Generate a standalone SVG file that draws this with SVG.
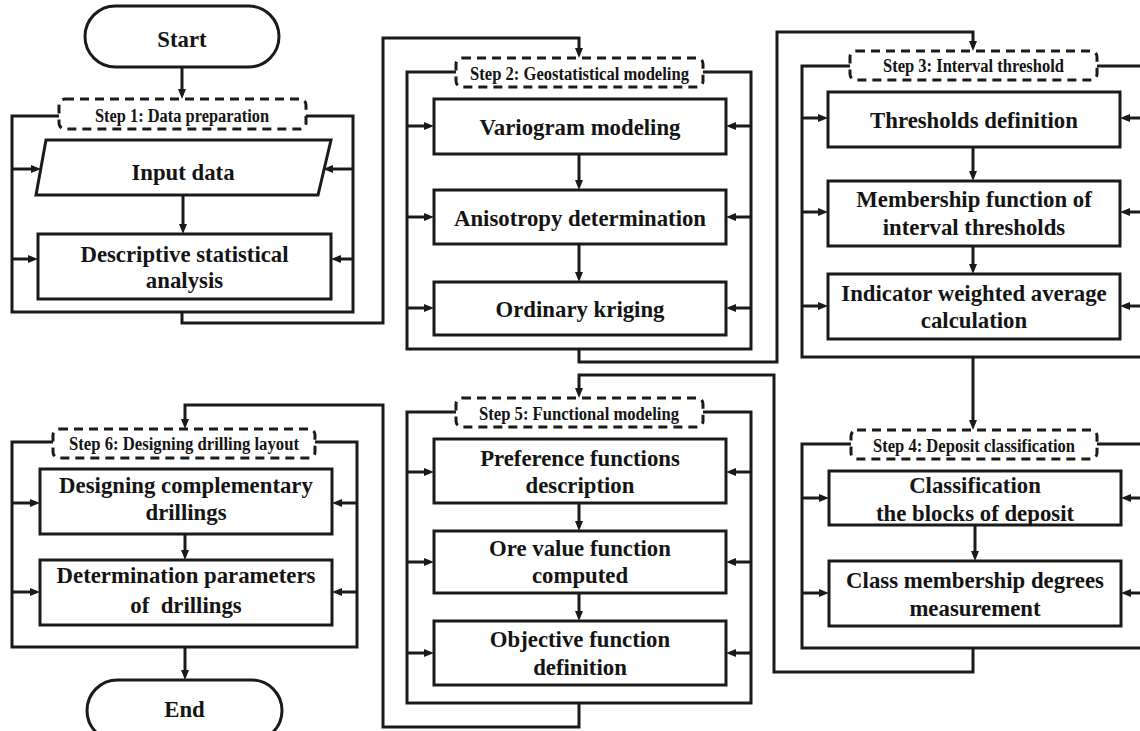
<svg xmlns="http://www.w3.org/2000/svg" width="1140" height="731" viewBox="0 0 1140 731">
<defs>
<style>
.box{fill:#fff;stroke:#1a1a1a;stroke-width:3}
.frame{fill:none;stroke:#1a1a1a;stroke-width:3}
.lbl{fill:#fff;stroke:#1a1a1a;stroke-width:3;stroke-dasharray:9 6}
.t{font-family:"Liberation Serif","Times New Roman",serif;font-weight:bold;font-size:24px;fill:#141414;text-anchor:middle;transform-box:fill-box;transform-origin:center;transform:scaleX(0.95)}
.s{font-family:"Liberation Serif","Times New Roman",serif;font-weight:bold;font-size:18px;fill:#141414;text-anchor:middle}
.c{fill:none;stroke:#1a1a1a;stroke-width:3;marker-end:url(#ah)}
</style>
<marker id="ah" viewBox="0 0 10 8" refX="2" refY="4" markerWidth="10" markerHeight="8" markerUnits="userSpaceOnUse" orient="auto"><path d="M0,0 L10,4 L0,8 z" fill="#1a1a1a"/></marker>
</defs>
<rect width="1140" height="731" fill="#fff"/>

<g id="start">
<rect class="box" x="85" y="6" width="194" height="61" rx="30.5"/>
<text class="t" x="182" y="47">Start</text>
</g>

<g id="step1">
<rect class="frame" x="12" y="116" width="341" height="196"/>
<rect class="lbl" x="59" y="99" width="247" height="30" rx="6"/>
<text class="s" x="182" y="122" textLength="174" lengthAdjust="spacingAndGlyphs">Step 1: Data preparation</text>
</g>
<g id="input-data">
<polygon class="box" points="46,140 331,140 318,195 36,195"/>
<text class="t" x="183" y="180">Input data</text>
</g>
<g id="descriptive">
<rect class="box" x="38" y="234" width="293" height="65"/>
<text class="t" x="184.5" y="262">Descriptive statistical</text>
<text class="t" x="184.5" y="288">analysis</text>
</g>

<g id="step2">
<rect class="frame" x="407" y="72" width="344" height="277"/>
<rect class="lbl" x="456" y="58" width="247" height="29" rx="6"/>
<text class="s" x="579.5" y="80" textLength="219" lengthAdjust="spacingAndGlyphs">Step 2: Geostatistical modeling</text>
</g>
<g id="variogram">
<rect class="box" x="434" y="99" width="292" height="55"/>
<text class="t" x="580" y="135">Variogram modeling</text>
</g>
<g id="anisotropy">
<rect class="box" x="434" y="190" width="292" height="54"/>
<text class="t" x="580" y="226">Anisotropy determination</text>
</g>
<g id="kriging">
<rect class="box" x="434" y="282" width="292" height="53"/>
<text class="t" x="580" y="317">Ordinary kriging</text>
</g>

<g id="step3">
<rect class="frame" x="802" y="66" width="340" height="291"/>
<rect class="lbl" x="850" y="51" width="247" height="29" rx="6"/>
<text class="s" x="973.5" y="72" textLength="181" lengthAdjust="spacingAndGlyphs">Step 3: Interval threshold</text>
</g>
<g id="thresholds">
<rect class="box" x="828" y="92" width="292" height="55"/>
<text class="t" x="974" y="128">Thresholds definition</text>
</g>
<g id="membership">
<rect class="box" x="828" y="181" width="292" height="65"/>
<text class="t" x="974" y="207">Membership function of</text>
<text class="t" x="974" y="235">interval thresholds</text>
</g>
<g id="indicator">
<rect class="box" x="828" y="274" width="292" height="65"/>
<text class="t" x="974" y="301">Indicator weighted average</text>
<text class="t" x="974" y="328">calculation</text>
</g>

<g id="step4">
<rect class="frame" x="802" y="444" width="340" height="204"/>
<rect class="lbl" x="851" y="430" width="246" height="29" rx="6"/>
<text class="s" x="974" y="452" textLength="202" lengthAdjust="spacingAndGlyphs">Step 4: Deposit classification</text>
</g>
<g id="classification">
<rect class="box" x="829" y="471" width="292" height="54"/>
<text class="t" x="975" y="493">Classification</text>
<text class="t" x="975" y="521">the blocks of deposit</text>
</g>
<g id="class-membership">
<rect class="box" x="829" y="561" width="292" height="65"/>
<text class="t" x="975" y="588">Class membership degrees</text>
<text class="t" x="975" y="616">measurement</text>
</g>

<g id="step5">
<rect class="frame" x="407" y="412" width="344" height="291"/>
<rect class="lbl" x="456" y="398" width="247" height="29" rx="6"/>
<text class="s" x="579" y="420" textLength="200" lengthAdjust="spacingAndGlyphs">Step 5: Functional modeling</text>
</g>
<g id="preference">
<rect class="box" x="434" y="439" width="292" height="64"/>
<text class="t" x="580" y="466">Preference functions</text>
<text class="t" x="580" y="493">description</text>
</g>
<g id="ore-value">
<rect class="box" x="434" y="531" width="292" height="62"/>
<text class="t" x="580" y="556">Ore value function</text>
<text class="t" x="580" y="583">computed</text>
</g>
<g id="objective">
<rect class="box" x="434" y="621" width="292" height="64"/>
<text class="t" x="580" y="647">Objective function</text>
<text class="t" x="580" y="675">definition</text>
</g>

<g id="step6">
<rect class="frame" x="12" y="442" width="345" height="205"/>
<rect class="lbl" x="53" y="429" width="262" height="29" rx="6"/>
<text class="s" x="184" y="450" textLength="230" lengthAdjust="spacingAndGlyphs">Step 6: Designing drilling layout</text>
</g>
<g id="designing">
<rect class="box" x="40" y="469" width="292" height="65"/>
<text class="t" x="186" y="493">Designing complementary</text>
<text class="t" x="186" y="520">drillings</text>
</g>
<g id="determination">
<rect class="box" x="40" y="560" width="292" height="65"/>
<text class="t" x="186" y="583">Determination parameters</text>
<text class="t" x="186" y="613" style="white-space:pre">of  drillings</text>
</g>

<g id="end">
<rect class="box" x="87" y="680" width="195" height="61" rx="30.5"/>
<text class="t" x="184.5" y="717">End</text>
</g>

<g id="connectors">
<path class="c" d="M182,67 V91"/>
<path class="c" d="M182,312 V323 H383 V38 H579 V50"/>
<path class="c" d="M579,349 V362 H777 V32 H973 V43"/>
<path class="c" d="M973,357 V422"/>
<path class="c" d="M973,648 V672 H774 V375 H579 V390"/>
<path class="c" d="M579,703 V727 H383 V405 H185 V421"/>
<path class="c" d="M185,647 V672"/>

<path class="c" d="M183,195 V226"/>
<path class="c" d="M579,154 V182"/>
<path class="c" d="M579,244 V274"/>
<path class="c" d="M973,147 V173"/>
<path class="c" d="M973,246 V266"/>
<path class="c" d="M975,525 V553"/>
<path class="c" d="M579,503 V523"/>
<path class="c" d="M579,593 V613"/>
<path class="c" d="M185,534 V552"/>

<path class="c" d="M12,169 H33"/>
<path class="c" d="M12,259 H30"/>
<path class="c" d="M353,169 H331"/>
<path class="c" d="M353,259 H339"/>

<path class="c" d="M407,126 H426"/>
<path class="c" d="M407,217 H426"/>
<path class="c" d="M407,308 H426"/>
<path class="c" d="M751,126 H734"/>
<path class="c" d="M751,217 H734"/>
<path class="c" d="M751,308 H734"/>

<path class="c" d="M802,118 H820"/>
<path class="c" d="M802,212 H820"/>
<path class="c" d="M802,306 H820"/>
<path class="c" d="M1142,118 H1128"/>
<path class="c" d="M1142,212 H1128"/>
<path class="c" d="M1142,306 H1128"/>

<path class="c" d="M802,498 H821"/>
<path class="c" d="M802,593 H821"/>
<path class="c" d="M1142,498 H1129"/>
<path class="c" d="M1142,593 H1129"/>

<path class="c" d="M407,472 H426"/>
<path class="c" d="M407,562 H426"/>
<path class="c" d="M407,653 H426"/>
<path class="c" d="M751,472 H734"/>
<path class="c" d="M751,562 H734"/>
<path class="c" d="M751,653 H734"/>

<path class="c" d="M12,503 H32"/>
<path class="c" d="M12,592 H32"/>
<path class="c" d="M357,503 H340"/>
<path class="c" d="M357,592 H340"/>
</g>
</svg>
